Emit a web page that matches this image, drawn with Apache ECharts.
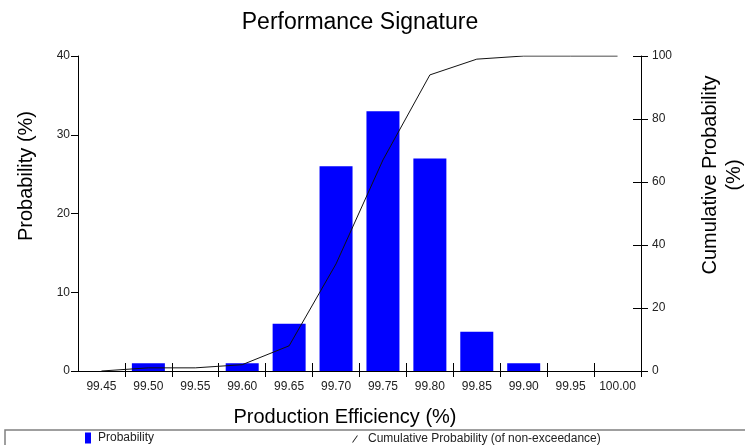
<!DOCTYPE html>
<html>
<head>
<meta charset="utf-8">
<script src="https://cdn.jsdelivr.net/npm/echarts@6/dist/echarts.min.js"></script>
<style>
html,body{margin:0;padding:0;background:#fff;}
#chart{width:745px;height:445px;}
</style>
</head>
<body>
<div id="chart"></div>
<script>
var categories = ['99.45','99.50','99.55','99.60','99.65','99.70','99.75','99.80','99.85','99.90','99.95','100.00'];
var probability = [0, 1, 0, 1, 6, 26, 33, 27, 5, 1, 0, 0];
var cumulative = [0, 1, 1, 2, 8, 34, 67, 94, 99, 100, 100, 100];
var leftTicks = [0, 10, 20, 30, 40];
var rightTicks = [0, 20, 40, 60, 80, 100];

var FONT = 'Arial, "Liberation Sans", sans-serif';
var chart = echarts.init(document.getElementById('chart'), null, {renderer: 'canvas'});

var tickInterval = function (i) { return i !== 0; };

chart.setOption({
  animation: false,
  backgroundColor: '#ffffff',
  title: {
    text: 'Performance Signature',
    left: 360, top: 11, textAlign: 'center', padding: 0,
    textStyle: {fontFamily: FONT, fontSize: 23, fontWeight: 'normal', color: '#000'}
  },
  legend: [
    {
      data: [{name: 'Probability', icon: 'rect'}],
      left: 85, top: 432, padding: 0, itemWidth: 6, itemHeight: 11,
      textStyle: {fontFamily: FONT, fontSize: 12, color: '#222', padding: [0, 0, 0, 2]},
      selectedMode: false
    },
    {
      data: [{name: 'Cumulative Probability (of non-exceedance)', icon: 'path://M0,12L1,12L6,5L5,5Z'}],
      left: 352, top: 433, padding: 0, itemWidth: 6, itemHeight: 8,
      textStyle: {fontFamily: FONT, fontSize: 12, color: '#222', padding: [0, 0, 0, 5]},
      selectedMode: false
    }
  ],
  grid: {left: 78, right: 104, top: 56, bottom: 74, containLabel: false},
  xAxis: [
    {
      type: 'category', data: categories, position: 'bottom', boundaryGap: true,
      axisLine: {lineStyle: {color: '#000', width: 1}},
      axisTick: {show: true, length: 6, interval: tickInterval, lineStyle: {color: '#000'}},
      axisLabel: {fontFamily: FONT, fontSize: 12, color: '#222', margin: 10, interval: 0},
      name: 'Production Efficiency (%)', nameLocation: 'middle', nameGap: 36,
      nameTextStyle: {fontFamily: FONT, fontSize: 20, color: '#000', padding: [0, 29, 0, 0]},
      splitLine: {show: false}
    },
    {
      type: 'category', data: categories, position: 'bottom', boundaryGap: true,
      axisLine: {show: false},
      axisTick: {show: true, inside: true, length: 8, interval: tickInterval, lineStyle: {color: '#000'}},
      axisLabel: {show: false},
      splitLine: {show: false}
    }
  ],
  yAxis: [
    {
      type: 'value', min: 0, max: 40, interval: 10, position: 'left',
      axisLine: {show: true, lineStyle: {color: '#000', width: 1}},
      axisTick: {show: true, length: 7, lineStyle: {color: '#000'}},
      axisLabel: {fontFamily: FONT, fontSize: 12, color: '#222', margin: 8,
        customValues: leftTicks},
      splitLine: {show: false}
    },
    {
      type: 'value', min: 0, max: 100, interval: 20, position: 'right',
      axisLine: {show: true, lineStyle: {color: '#000', width: 1}},
      axisTick: {show: true, length: 7, lineStyle: {color: '#000'}},
      axisLabel: {fontFamily: FONT, fontSize: 12, color: '#222', margin: 11,
        customValues: rightTicks},
      splitLine: {show: false}
    },
    {
      type: 'value', min: 0, max: 100, interval: 20, position: 'right',
      axisLine: {show: false},
      axisTick: {show: true, inside: true, length: 8, lineStyle: {color: '#000'}},
      axisLabel: {show: false},
      splitLine: {show: false}
    }
  ],
  graphic: [
    {
      type: 'text', x: 26, y: 176, rotation: Math.PI / 2,
      style: {text: 'Probability (%)', font: '20px ' + FONT, fill: '#000', align: 'center', verticalAlign: 'middle'}
    },
    {
      type: 'text', x: 722, y: 175, rotation: Math.PI / 2,
      style: {text: 'Cumulative Probability\n(%)', font: '20px ' + FONT, fill: '#000', align: 'center', verticalAlign: 'middle', lineHeight: 24}
    },
    {
      type: 'rect', shape: {x: 5, y: 430, width: 760, height: 40},
      style: {fill: 'none', stroke: '#808080', lineWidth: 1.5}, silent: true, z: -1
    }
  ],
  series: [
    {
      name: 'Probability', type: 'bar', xAxisIndex: 0, yAxisIndex: 0,
      data: probability, barWidth: 33,
      itemStyle: {color: '#0000ff', borderWidth: 0}
    },
    {
      name: 'Cumulative Probability (of non-exceedance)', type: 'line', xAxisIndex: 0, yAxisIndex: 1,
      data: cumulative, showSymbol: false, symbol: 'none',
      lineStyle: {color: '#111', width: 1},
      itemStyle: {color: '#111'}
    }
  ]
});
</script>
</body>
</html>
